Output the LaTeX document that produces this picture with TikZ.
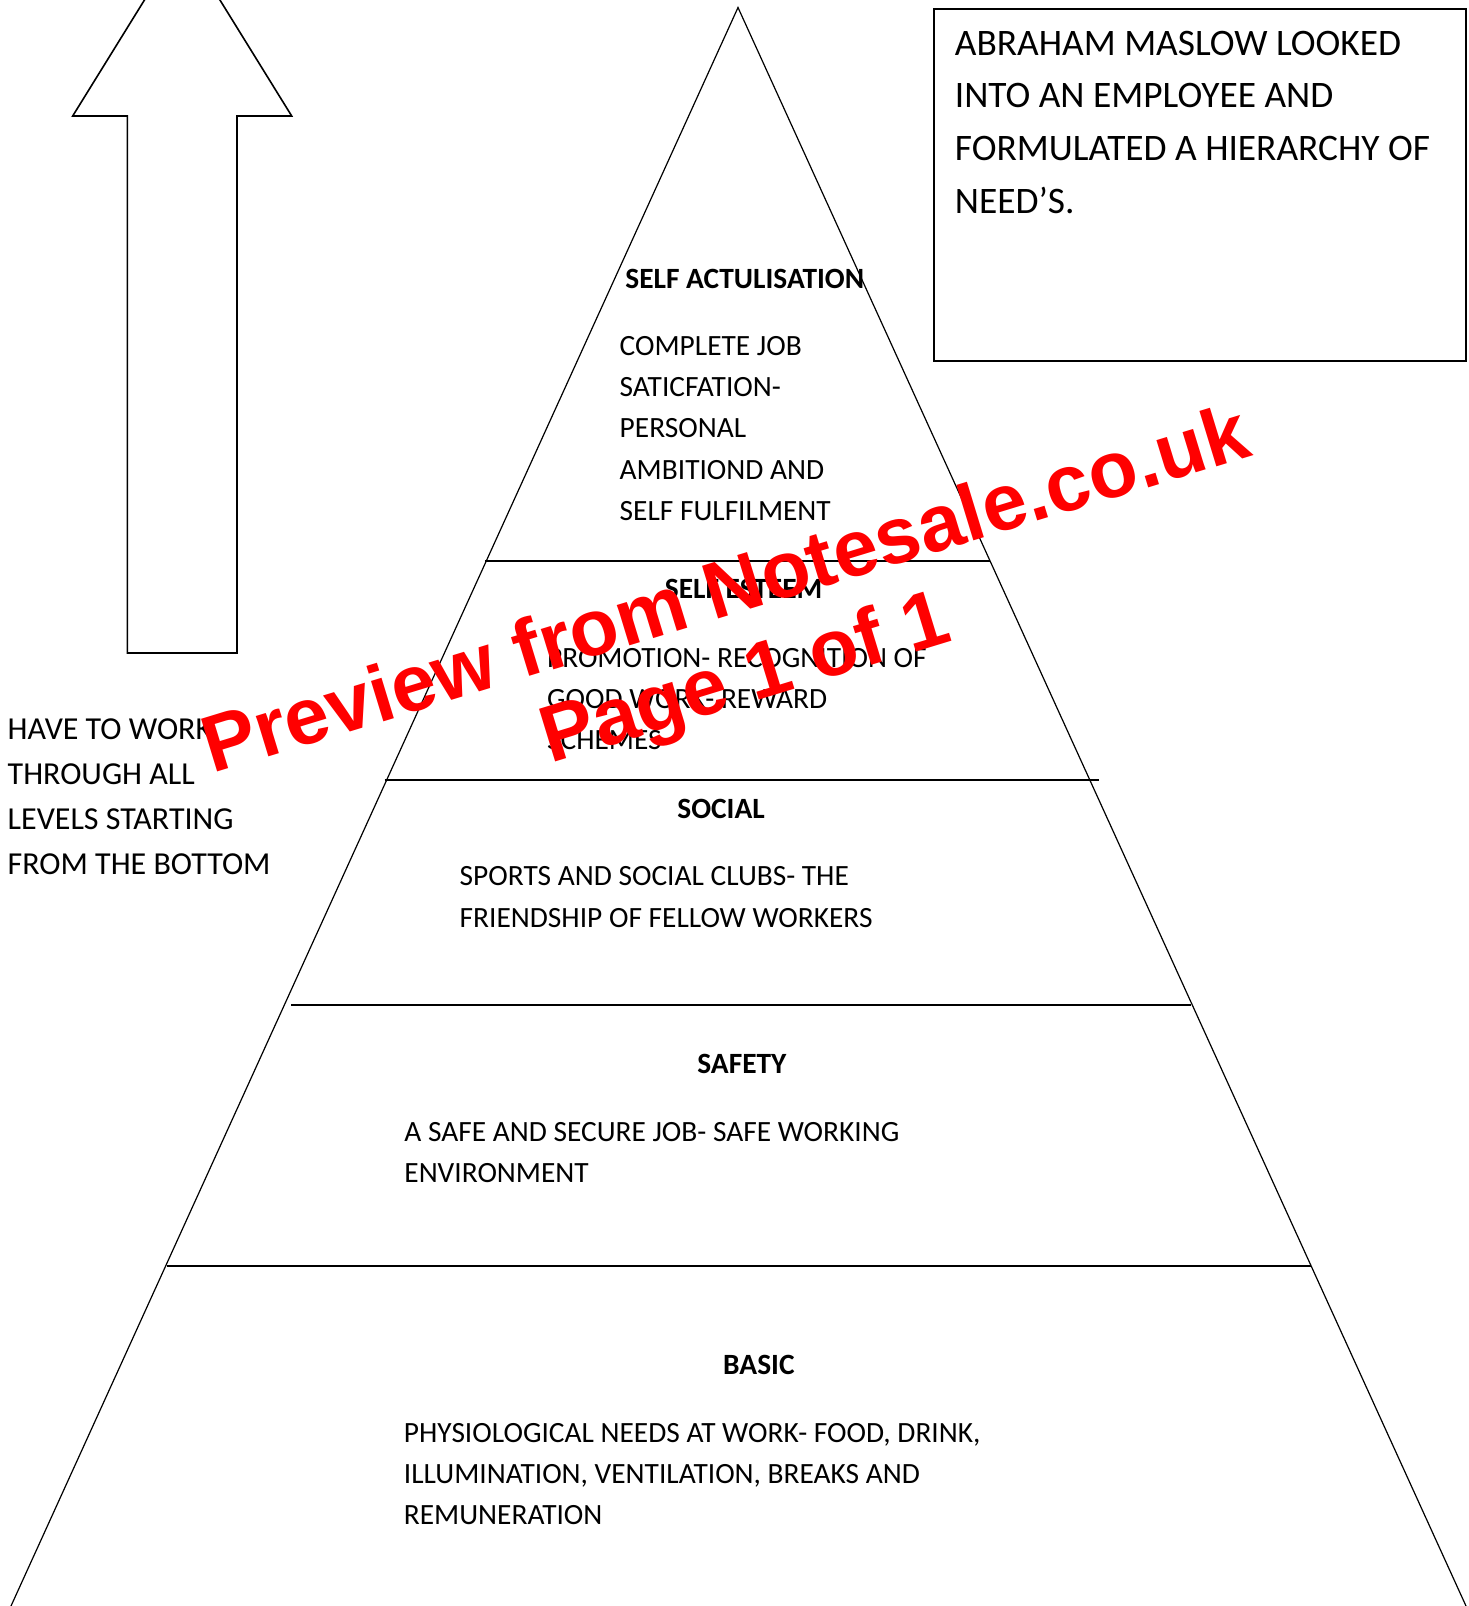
\documentclass[tikz,border=0pt]{standalone}
\usepackage{fontspec}
\setmainfont{Carlito}
\newfontfamily\wmfont{Liberation Sans}
\definecolor{wmred}{RGB}{255,0,0}
\tikzset{
  lvltext/.style={anchor=base west, inner sep=0pt, font=\fontsize{14.7}{17}\selectfont},
  lvlhead/.style={anchor=base west, inner sep=0pt, font=\fontsize{14.7}{17}\selectfont\bfseries},
  sidetext/.style={anchor=base west, inner sep=0pt, font=\fontsize{16}{19}\selectfont},
  boxtext/.style={anchor=base west, inner sep=0pt, font=\fontsize{18.7}{22}\selectfont},
  wmark/.style={anchor=base, inner sep=0pt, rotate=17, text=wmred, font=\wmfont\bfseries\fontsize{40}{44}\selectfont},
  pyrside/.style={line width=0.6pt},
  tier/.style={line width=1pt},
  outline/.style={line width=0.8pt},
}
\begin{document}
\begin{tikzpicture}[x=0.5pt,y=-0.5pt]
\useasboundingbox (0,0) rectangle (1468,1606);
\clip (0,0) rectangle (1468,1606);
% up arrow
\draw[outline] (182.2,-61) -- (291.7,116) -- (237,116) -- (237,653) -- (127.3,653) -- (127.3,116) -- (72.7,116) -- cycle;
% pyramid
\draw[pyrside] (11,1606) -- (738,7.5) -- (1466,1606);
\draw[tier] (485,560.5) -- (990,560.5);
\draw[tier] (384.5,780) -- (1099,780);
\draw[tier] (291,1005) -- (1191.4,1005);
\draw[tier] (166.7,1266) -- (1310.9,1266);
% info box
\draw[line width=1pt] (934,9) rectangle (1466,361);
\node[boxtext] (b1) at (954.5,55) {ABRAHAM MASLOW LOOKED};
\node[boxtext] (b2) at (954.5,107.3) {INTO AN EMPLOYEE AND};
\node[boxtext] (b3) at (954.5,160.5) {FORMULATED A HIERARCHY OF};
\node[boxtext] (b4) at (954.5,213) {NEED’S.};
% side text
\node[sidetext] (s1) at (7.3,739) {HAVE TO WORK};
\node[sidetext] (s2) at (7.3,784.2) {THROUGH ALL};
\node[sidetext] (s3) at (7.3,829.4) {LEVELS STARTING};
\node[sidetext] (s4) at (7.3,874) {FROM THE BOTTOM};
% self actualisation
\node[lvlhead] (h1) at (625,288) {SELF ACTULISATION};
\node[lvltext] (t11) at (619.3,355.5) {COMPLETE JOB};
\node[lvltext] (t12) at (619.3,396.8) {SATICFATION-};
\node[lvltext] (t13) at (619.3,437.8) {PERSONAL};
\node[lvltext] (t14) at (619.3,479) {AMBITIOND AND};
\node[lvltext] (t15) at (619.3,520) {SELF FULFILMENT};
% self esteem
\node[lvlhead] (h2) at (664.5,598.8) {SELF ESTEEM};
\node[lvltext] (t21) at (546.7,667.2) {PROMOTION- RECOGNITION OF};
\node[lvltext] (t22) at (546.7,708) {GOOD WORK- REWARD};
\node[lvltext] (t23) at (546.7,749) {SCHEMES};
% social
\node[lvlhead] (h3) at (677,818.3) {SOCIAL};
\node[lvltext] (t31) at (459.3,885.5) {SPORTS AND SOCIAL CLUBS- THE};
\node[lvltext] (t32) at (459.3,927.5) {FRIENDSHIP OF FELLOW WORKERS};
% safety
\node[lvlhead] (h4) at (697,1073.3) {SAFETY};
\node[lvltext] (t41) at (404,1141) {A SAFE AND SECURE JOB- SAFE WORKING};
\node[lvltext] (t42) at (404,1182.5) {ENVIRONMENT};
% basic
\node[lvlhead] (h5) at (722.8,1374) {BASIC};
\node[lvltext] (t51) at (403.5,1442.5) {PHYSIOLOGICAL NEEDS AT WORK- FOOD, DRINK,};
\node[lvltext] (t52) at (403.5,1483) {ILLUMINATION, VENTILATION, BREAKS AND};
\node[lvltext] (t53) at (403.5,1524.5) {REMUNERATION};
% watermark
\node[wmark] (wm1) at (733,614.5) {Preview from Notesale.co.uk};
\node[wmark] (wm2) at (752,702) {Page 1 of 1};
\end{tikzpicture}
\end{document}
